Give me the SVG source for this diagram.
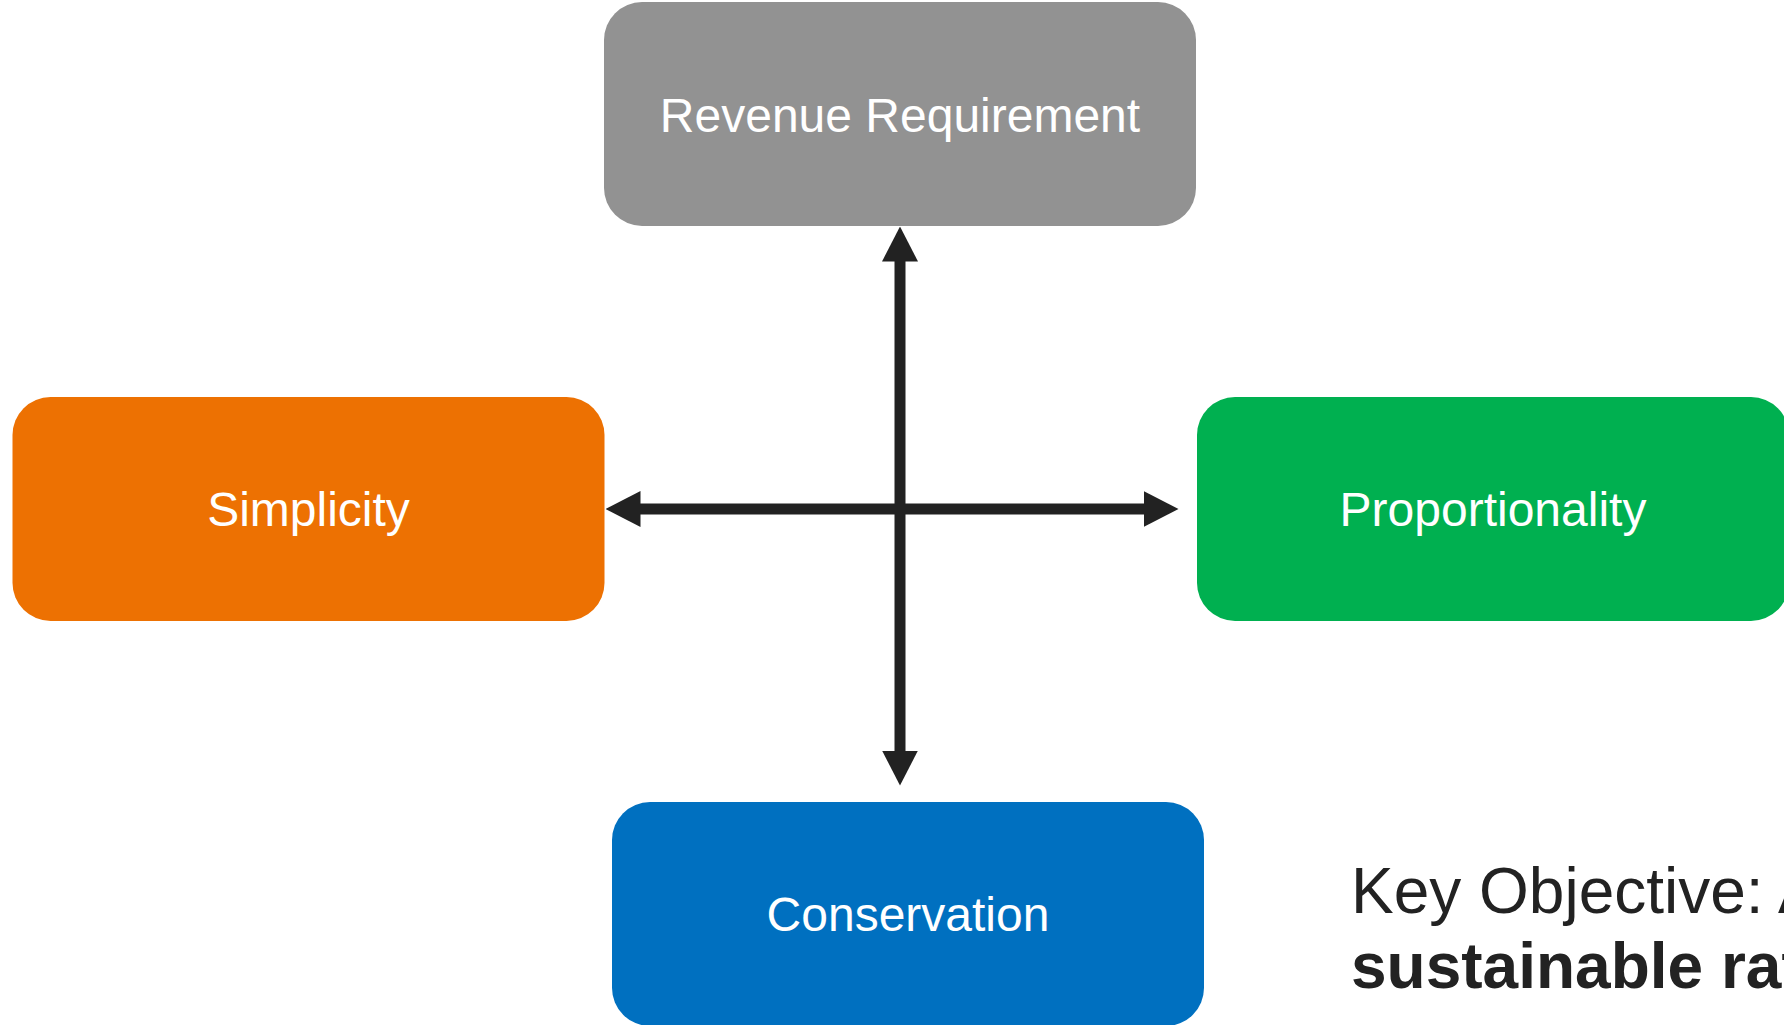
<svg xmlns="http://www.w3.org/2000/svg" width="1784" height="1025" viewBox="0 0 1784 1025">
  <style>
    .box { stroke: none; }
    .label { font-family: "Liberation Sans", Arial, sans-serif; font-size: 48px; fill: #ffffff; text-anchor: middle; }
    .conn { stroke: #222222; stroke-width: 11; fill: none; }
    .note { font-family: "Liberation Sans", Arial, sans-serif; font-size: 64px; fill: #222222; }
  </style>
  <defs>
    <marker id="arrow" viewBox="0 0 35 36" refX="0.5" refY="18" markerWidth="35" markerHeight="36" markerUnits="userSpaceOnUse" orient="auto-start-reverse">
      <path d="M0,0 L35,18 L0,36 Z" fill="#222222"/>
    </marker>
  </defs>
  <rect width="1784" height="1025" fill="#ffffff"/>
  <g id="connectors">
    <line class="conn" x1="900" y1="751" x2="900" y2="261" marker-start="url(#arrow)" marker-end="url(#arrow)"/>
    <line class="conn" x1="640" y1="509" x2="1144" y2="509" marker-start="url(#arrow)" marker-end="url(#arrow)"/>
  </g>
  <g id="revenue-requirement">
    <rect class="box" x="604" y="2" width="592" height="224" rx="38" ry="38" fill="#929292"/>
    <text class="label" x="900" y="132">Revenue Requirement</text>
  </g>
  <g id="simplicity">
    <rect class="box" x="12.5" y="397" width="592" height="224" rx="38" ry="38" fill="#ED7102"/>
    <text class="label" x="308.5" y="526">Simplicity</text>
  </g>
  <g id="proportionality">
    <rect class="box" x="1197" y="397" width="592" height="224" rx="38" ry="38" fill="#00B050"/>
    <text class="label" x="1493" y="526">Proportionality</text>
  </g>
  <g id="conservation">
    <rect class="box" x="612" y="802" width="592" height="224" rx="38" ry="38" fill="#0070C0"/>
    <text class="label" x="908" y="931">Conservation</text>
  </g>
  <g id="key-objective">
    <text class="note" x="1351" y="913">Key Objective: A</text>
    <text class="note" x="1351" y="988" font-weight="bold">sustainable rat</text>
  </g>
</svg>
